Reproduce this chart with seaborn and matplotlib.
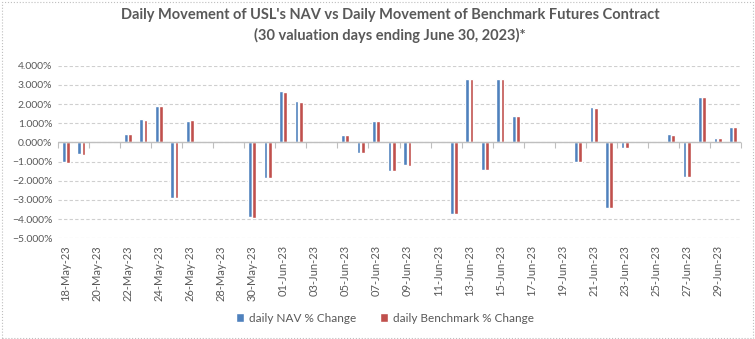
import numpy as np
import pandas as pd
import matplotlib
matplotlib.use("Agg")
import matplotlib.pyplot as plt
import matplotlib.patches as mpatches
from matplotlib.ticker import PercentFormatter
import seaborn as sns

# ---- data (percent) ----
trade_dates = ["2023-05-18", "2023-05-19", "2023-05-22", "2023-05-23", "2023-05-24",
               "2023-05-25", "2023-05-26", "2023-05-30", "2023-05-31", "2023-06-01",
               "2023-06-02", "2023-06-05", "2023-06-06", "2023-06-07", "2023-06-08",
               "2023-06-09", "2023-06-12", "2023-06-13", "2023-06-14", "2023-06-15",
               "2023-06-16", "2023-06-20", "2023-06-21", "2023-06-22", "2023-06-23",
               "2023-06-26", "2023-06-27", "2023-06-28", "2023-06-29", "2023-06-30"]
nav_change = [-1.01, -0.61, 0.43, 1.21, 1.89, -2.89, 1.11, -3.88, -1.86, 2.67,
              2.15, 0.38, -0.54, 1.11, -1.48, -1.17, -3.72, 3.30, -1.43, 3.30,
              1.37, -1.01, 1.84, -3.41, -0.28, 0.43, -1.79, 2.36, 0.22, 0.80]
bench_change = [-1.06, -0.66, 0.43, 1.16, 1.89, -2.89, 1.16, -3.93, -1.86, 2.62,
                2.10, 0.38, -0.54, 1.11, -1.48, -1.22, -3.72, 3.30, -1.43, 3.30,
                1.37, -1.01, 1.79, -3.41, -0.28, 0.38, -1.79, 2.36, 0.22, 0.80]
series_names = ["daily NAV % Change", "daily Benchmark % Change"]
colors = ["#4F81BD", "#C0504D"]
title = "Daily Movement of USL's NAV vs Daily Movement of Benchmark Futures Contract\n(30 valuation days ending June 30, 2023)*"

# ---- build table over full calendar range ----
all_days = pd.date_range("2023-05-18", "2023-06-30", freq="D")
day_labels = [d.strftime("%d-%b-%y") for d in all_days]
vals = pd.DataFrame({"date": pd.to_datetime(trade_dates),
                     series_names[0]: nav_change,
                     series_names[1]: bench_change})
full = pd.DataFrame({"date": all_days}).merge(vals, on="date", how="left")
full["day"] = day_labels
long = full.melt(id_vars=["date", "day"], value_vars=series_names,
                 var_name="series", value_name="value")

sns.set_theme(style="white")
plt.rcParams["font.family"] = ["Lato", "DejaVu Sans"]
txt = "#595959"

fig = plt.figure(figsize=(7.55, 3.39), dpi=100)
ax = fig.add_axes([58 / 755, 1 - 238.3 / 339, (741 - 58) / 755, (238.3 - 65.7) / 339])

sns.barplot(data=long, x="day", y="value", hue="series", order=day_labels,
            hue_order=series_names, palette=colors, width=0.55, gap=0.12,
            ax=ax, errorbar=None, saturation=1)

ax.set_ylim(-5, 4)
ax.set_xlim(-0.5, len(all_days) - 0.5)
ax.set_yticks(np.arange(-5, 4.5, 1))
ax.yaxis.set_major_formatter(PercentFormatter(100, decimals=3))
ax.grid(axis="y", color="#cfcfcf", linestyle=(0, (3, 2)), linewidth=0.8)
ax.set_axisbelow(True)
ax.axhline(0, color="#bfbfbf", linewidth=1, zorder=1)
for s in ax.spines.values():
    s.set_visible(False)

tick_pos = list(range(0, len(all_days), 2))
ax.set_xticks(tick_pos)
ax.set_xticklabels([day_labels[i] for i in tick_pos], rotation=90, fontsize=8, color=txt)
ax.tick_params(axis="x", length=0, pad=5)
ax.tick_params(axis="y", length=0, labelsize=7.5, labelcolor=txt, pad=4)
ax.set_xlabel("")
ax.set_ylabel("")

# tick marks hanging below the zero line
sec = ax.secondary_xaxis(5 / 9)
sec.set_xticks(np.arange(-0.5, len(all_days), 2))
sec.set_xticklabels([])
sec.xaxis.set_ticks_position("bottom")
sec.tick_params(axis="x", which="both", direction="out", length=4, color="#bfbfbf",
                width=0.8, bottom=True, top=False)
for s in sec.spines.values():
    s.set_visible(False)

fig.suptitle(title, x=390 / 755, y=1 - 8 / 339, fontsize=10.5, fontweight="bold",
             color=txt, va="top", linespacing=1.5)

sns.move_legend(ax, "center", ncol=2, frameon=False, title=None,
                fontsize=8.5, handlelength=0.7, handleheight=0.7,
                handletextpad=0.4, columnspacing=2.0)
leg = ax.get_legend()
leg.set_bbox_to_anchor((385 / 755, 1 - 318 / 339), transform=fig.transFigure)
for t in leg.get_texts():
    t.set_color(txt)

fig.patches.append(mpatches.Rectangle((0.002, 0.004), 0.995, 0.99, transform=fig.transFigure,
                                      fill=False, edgecolor="#bfbfbf", linestyle=":",
                                      linewidth=0.8))
fig.savefig("out.png", dpi=100)
